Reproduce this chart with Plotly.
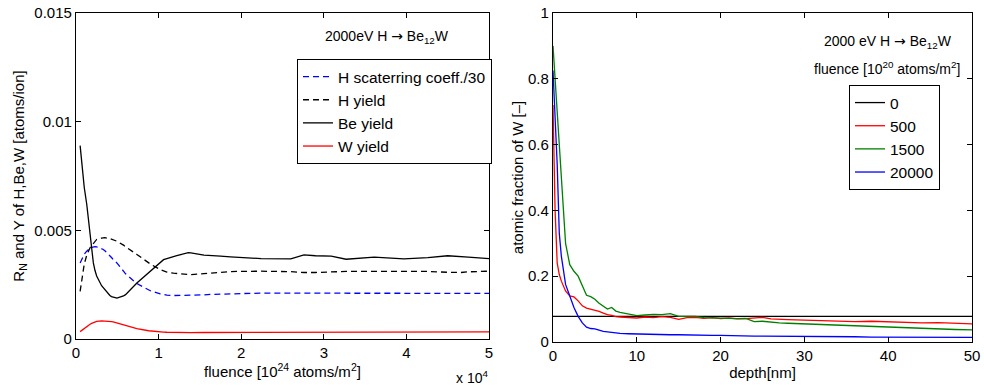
import plotly.graph_objects as go

# ---------------- left panel data ----------------
fluence = [500, 1000, 1300, 1500, 1700, 1900, 2100, 2300, 2500, 3100, 3300, 3500,
           4100, 4300, 4500, 4950, 5750, 6000, 7370, 8790, 9000, 10200, 10600,
           11000, 11800, 12200, 13600, 13900, 15500, 16300, 17500, 18700, 19500,
           21100, 22400, 26000, 27600, 29000, 30900, 32700, 36100, 39700, 42600,
           45000, 46600, 47500, 50000]

h_scatter = [0.00350, 0.00390, 0.00404, 0.00412, 0.00418, 0.00422, 0.00424, 0.00425, 0.00424, 0.00416, 0.00412, 0.00406,
             0.00385, 0.00375, 0.00366, 0.00350, 0.00312, 0.00300, 0.00255, 0.00225, 0.00222, 0.00208, 0.00204,
             0.00202, 0.00200, 0.00200, 0.00200, 0.00200, 0.00203, 0.00205, 0.00207, 0.00208, 0.00209,
             0.00210, 0.00211, 0.00211, 0.00211, 0.00211, 0.00211, 0.00211, 0.00211, 0.00210, 0.00210,
             0.00210, 0.00210, 0.00210, 0.00210]

h_yield = [0.00219, 0.00345, 0.00385, 0.00405, 0.00420, 0.00430, 0.00440, 0.00450, 0.00458, 0.00464, 0.00466, 0.00466,
           0.00462, 0.00460, 0.00456, 0.00450, 0.00432, 0.00424, 0.00389, 0.00350, 0.00345, 0.00319, 0.00313,
           0.00308, 0.00303, 0.00301, 0.00297, 0.00296, 0.00301, 0.00304, 0.00307, 0.00310, 0.00311,
           0.00312, 0.00312, 0.00310, 0.00306, 0.00306, 0.00308, 0.00311, 0.00311, 0.00311, 0.00311,
           0.00307, 0.00306, 0.00309, 0.00312]

be_yield = [0.00890, 0.00697, 0.00620, 0.00550, 0.00470, 0.00400, 0.00350, 0.00315, 0.00290, 0.00245, 0.00235, 0.00225,
            0.00200, 0.00195, 0.00192, 0.00188, 0.00198, 0.00204, 0.00258, 0.00305, 0.00312, 0.00355, 0.00365,
            0.00370, 0.00380, 0.00384, 0.00397, 0.00396, 0.00386, 0.00383, 0.00381, 0.00378, 0.00377,
            0.00375, 0.00370, 0.00369, 0.00387, 0.00383, 0.00381, 0.00367, 0.00377, 0.00369, 0.00374,
            0.00383, 0.00380, 0.00377, 0.00370]

w_yield = [0.00034, 0.00050, 0.00057, 0.00062, 0.00068, 0.00072, 0.00076, 0.00079, 0.00081, 0.00083, 0.00083, 0.00083,
           0.00081, 0.00080, 0.00079, 0.00074, 0.00065, 0.00062, 0.00048, 0.00038, 0.00037, 0.00033, 0.00032,
           0.00031, 0.00030, 0.00030, 0.00029, 0.00029, 0.00030, 0.00030, 0.00031, 0.00031, 0.00032,
           0.00032, 0.00032, 0.00032, 0.00032, 0.00032, 0.00032, 0.00032, 0.00032, 0.00032, 0.00032,
           0.00033, 0.00033, 0.00033, 0.00033]

left_names = ["H scaterring coeff./30", "H yield", "Be yield", "W yield"]
left_xticks = [0, 10000, 20000, 30000, 40000, 50000]
left_xticklabels = ["0", "1", "2", "3", "4", "5"]
left_yticks = [0, 0.005, 0.01, 0.015]
left_yticklabels = ["0", "0.005", "0.01", "0.015"]

# ---------------- right panel data ----------------
depth = [0, 0.25, 0.5, 0.75, 1, 1.5, 2, 2.5, 3, 3.5, 4, 4.5, 5, 5.5, 6, 6.5, 7, 7.5, 8, 9,
         10, 11, 12, 13, 14, 15, 16, 17, 18, 19, 20, 21, 22, 23, 24, 25, 26, 27, 28, 29,
         30, 32, 34, 36, 38, 40, 42, 44, 46, 48, 50]

frac_0 = [0.078] * len(depth)

frac_500 = [0.72, 0.40, 0.24, 0.205, 0.185, 0.155, 0.140, 0.137, 0.125, 0.110, 0.103, 0.100, 0.097, 0.093, 0.088, 0.083, 0.081, 0.077, 0.076, 0.074,
            0.073, 0.076, 0.074, 0.077, 0.075, 0.069, 0.074, 0.075, 0.072, 0.074, 0.071, 0.073, 0.070, 0.071, 0.072, 0.075, 0.070, 0.070, 0.068, 0.067,
            0.066, 0.064, 0.064, 0.062, 0.063, 0.061, 0.060, 0.058, 0.059, 0.056, 0.055]

frac_1500 = [0.90, 0.80, 0.68, 0.59, 0.50, 0.30, 0.235, 0.215, 0.200, 0.170, 0.142, 0.138, 0.130, 0.118, 0.108, 0.100, 0.105, 0.094, 0.090, 0.085,
             0.080, 0.082, 0.084, 0.083, 0.086, 0.078, 0.077, 0.078, 0.074, 0.073, 0.072, 0.070, 0.071, 0.072, 0.062, 0.063, 0.060, 0.058, 0.057, 0.056,
             0.055, 0.053, 0.052, 0.050, 0.048, 0.044, 0.043, 0.041, 0.040, 0.038, 0.037]

frac_20000 = [0.825, 0.70, 0.54, 0.33, 0.26, 0.175, 0.140, 0.105, 0.078, 0.058, 0.045, 0.041, 0.040, 0.036, 0.032, 0.031, 0.029, 0.028, 0.026, 0.025,
              0.024, 0.023, 0.023, 0.022, 0.022, 0.022, 0.021, 0.021, 0.020, 0.020, 0.020, 0.019, 0.018, 0.019, 0.018, 0.018, 0.018, 0.017, 0.017, 0.017,
              0.017, 0.016, 0.016, 0.016, 0.015, 0.015, 0.015, 0.015, 0.014, 0.014, 0.014]

right_names = ["0", "500", "1500", "20000"]
right_xticks = [0, 10, 20, 30, 40, 50]
right_yticks = [0, 0.2, 0.4, 0.6, 0.8, 1]
right_yticklabels = ["0", "0.2", "0.4", "0.6", "0.8", "1"]

FONT = "Liberation Sans, Arial, Helvetica, sans-serif"
W, H = 984, 385
ARROW = '<span style="font-family:DejaVu Sans">\u2192</span>'

fig = go.Figure()

left_series = [(h_scatter, "#0000ff", "6px,4px"),
               (h_yield, "#000000", "6px,4px"),
               (be_yield, "#000000", "solid"),
               (w_yield, "#ff0000", "solid")]
for (vals, col, dash), name in zip(left_series, left_names):
    fig.add_trace(go.Scatter(x=fluence, y=vals, mode="lines", name=name,
                             line=dict(color=col, width=1.3, dash=dash),
                             xaxis="x", yaxis="y", legend="legend"))

right_series = [(frac_0, "#000000"), (frac_500, "#ff0000"),
                (frac_1500, "#008000"), (frac_20000, "#0000ff")]
for (vals, col), name in zip(right_series, right_names):
    fig.add_trace(go.Scatter(x=depth, y=vals, mode="lines", name=name,
                             line=dict(color=col, width=1.3),
                             xaxis="x2", yaxis="y2", legend="legend2"))

axis_common = dict(showline=True, linecolor="black", linewidth=1.3, mirror="ticks",
                   ticks="inside", ticklen=5, tickwidth=1, tickcolor="black",
                   showgrid=False, zeroline=False, automargin=False,
                   tickfont=dict(family=FONT, size=15, color="black"))

def px_x(p):
    return p / W

def px_y(p):
    return 1 - p / H

fig.update_layout(
    width=W, height=H,
    margin=dict(l=0, r=0, t=0, b=0),
    paper_bgcolor="white", plot_bgcolor="white",
    font=dict(family=FONT, size=15, color="black"),
    xaxis=dict(axis_common, domain=[px_x(76), px_x(489)], range=[0, 50000],
               tickmode="array", tickvals=left_xticks, ticktext=left_xticklabels,
               anchor="y",
               title=dict(text="fluence [10<sup>24</sup> atoms/m<sup>2</sup>]",
                          font=dict(family=FONT, size=15), standoff=4)),
    yaxis=dict(axis_common, domain=[px_y(339), px_y(13)], range=[0, 0.015],
               tickmode="array", tickvals=left_yticks, ticktext=left_yticklabels,
               anchor="x",
               title=dict(text="R<sub>N</sub> and Y of H,Be,W [atoms/ion]",
                          font=dict(family=FONT, size=15), standoff=6)),
    xaxis2=dict(axis_common, domain=[px_x(553), px_x(972)], range=[0, 50],
                tickmode="array", tickvals=right_xticks,
                anchor="y2",
                title=dict(text="depth[nm]", font=dict(family=FONT, size=15), standoff=4)),
    yaxis2=dict(axis_common, domain=[px_y(342), px_y(13)], range=[0, 1],
                tickmode="array", tickvals=right_yticks, ticktext=right_yticklabels,
                anchor="x2",
                title=dict(text="atomic fraction of W [–]", font=dict(family=FONT, size=15), standoff=0)),
    legend=dict(x=px_x(297), y=px_y(59), xanchor="left", yanchor="top",
                bordercolor="black", borderwidth=1, bgcolor="white",
                font=dict(family=FONT, size=15.5), tracegroupgap=0, itemwidth=30),
    legend2=dict(x=px_x(849), y=px_y(85), xanchor="left", yanchor="top",
                 bordercolor="black", borderwidth=1, bgcolor="white",
                 font=dict(family=FONT, size=15.5), tracegroupgap=0, itemwidth=30),
    showlegend=True,
    annotations=[
        dict(text="2000eV H " + ARROW + " Be<sub>12</sub>W", xref="paper", yref="paper",
             x=px_x(387), y=px_y(37), xanchor="center", yanchor="middle",
             showarrow=False, font=dict(family=FONT, size=14)),
        dict(text="x 10<sup>4</sup>", xref="paper", yref="paper",
             x=px_x(490), y=px_y(377), xanchor="right", yanchor="middle",
             showarrow=False, font=dict(family=FONT, size=14)),
        dict(text="2000 eV H " + ARROW + " Be<sub>12</sub>W", xref="paper", yref="paper",
             x=px_x(888), y=px_y(42), xanchor="center", yanchor="middle",
             showarrow=False, font=dict(family=FONT, size=14)),
        dict(text="fluence [10<sup>20</sup> atoms/m<sup>2</sup>]", xref="paper", yref="paper",
             x=px_x(887), y=px_y(68), xanchor="center", yanchor="middle",
             showarrow=False, font=dict(family=FONT, size=14)),
    ],
)

fig.write_html("out.html")
